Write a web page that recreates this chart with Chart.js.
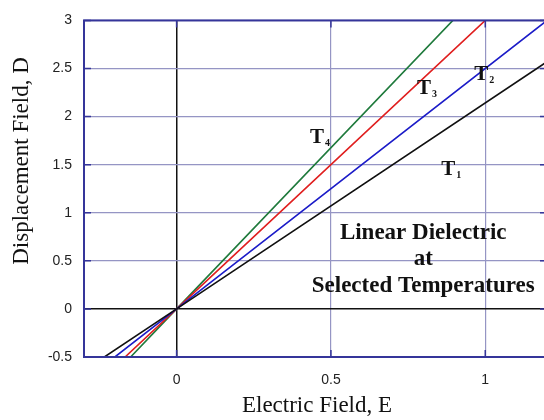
<!DOCTYPE html>
<html>
<head>
<meta charset="utf-8">
<script src="https://cdn.jsdelivr.net/npm/chart.js@4.4.0/dist/chart.umd.min.js"></script>
<style>
  html, body { margin: 0; padding: 0; background: #fff; overflow: hidden; }
  #wrap { width: 544px; height: 420px; overflow: hidden; }
</style>
</head>
<body>
<div id="wrap"><canvas id="dielectricChart" width="548" height="420"></canvas></div>
<script>
// 축 범위와 눈금
const xRange = [-0.3, 1.2];
const yRange = [-0.5, 3];
const xTicks = [0, 0.5, 1];
const yTicks = [-0.5, 0, 0.5, 1, 1.5, 2, 2.5, 3];

// 각 온도의 직선 (그림에서 읽은 끝점, 원점 통과)
const seriesNames = ["T1", "T2", "T3", "T4"];
const lineE = [
  [-0.234, 0, 1.2],
  [-0.2, 0, 1.2],
  [-0.167, 0, 1.0],
  [-0.149, 0, 0.895],
];
const lineD = [
  [-0.5, 0, 2.57],
  [-0.5, 0, 3.0],
  [-0.5, 0, 3.0],
  [-0.5, 0, 3.0],
];
const lineColors = ["#111111", "#1c1cc8", "#e01f1f", "#1f7a3c"];

// 라벨 위치 (데이터 좌표)
const tLabels = ["1", "2", "3", "4"];
const tLabelE = [0.857, 0.964, 0.779, 0.432];
const tLabelD = [1.39, 2.38, 2.235, 1.72];
const noteLines = ["Linear Dielectric", "at", "Selected Temperatures"];
const noteE = 0.799;
const noteD = [0.724, 0.459, 0.173];

const serif = '"Liberation Serif", "Times New Roman", serif';
const sans = '"Liberation Sans", Arial, sans-serif';
const gridColor = "#9595c4";
const frameColor = "#35359a";

const datasets = seriesNames.map((name, i) => ({
  label: name,
  data: lineE[i].map((e, j) => ({ x: e, y: lineD[i][j] })),
  borderColor: lineColors[i],
  borderWidth: 1.6,
  pointRadius: 0,
  fill: false,
  tension: 0,
}));

// 프레임, 안쪽 눈금, 텍스트 그리기
const decorPlugin = {
  id: "decor",
  afterDatasetsDraw(chart) {
    const { ctx, chartArea: a, scales } = chart;
    const xs = scales.x, ys = scales.y;
    ctx.save();
    // 안쪽 눈금
    ctx.strokeStyle = frameColor;
    ctx.lineWidth = 1.5;
    ctx.beginPath();
    yTicks.forEach((v) => {
      const py = ys.getPixelForValue(v);
      ctx.moveTo(a.left, py); ctx.lineTo(a.left + 7, py);
      ctx.moveTo(a.right, py); ctx.lineTo(a.right - 7, py);
    });
    xTicks.forEach((v) => {
      const px = xs.getPixelForValue(v);
      ctx.moveTo(px, a.bottom); ctx.lineTo(px, a.bottom - 7);
      ctx.moveTo(px, a.top); ctx.lineTo(px, a.top + 7);
    });
    ctx.stroke();
    // 테두리
    ctx.lineWidth = 2;
    ctx.strokeRect(a.left, a.top, a.right - a.left, a.bottom - a.top);

    // T 라벨
    ctx.fillStyle = "#111";
    ctx.textBaseline = "alphabetic";
    ctx.textAlign = "left";
    tLabels.forEach((s, i) => {
      const px = xs.getPixelForValue(tLabelE[i]);
      const py = ys.getPixelForValue(tLabelD[i]);
      ctx.font = "bold 21px " + serif;
      ctx.fillText("T", px, py);
      const w = ctx.measureText("T").width;
      ctx.font = "bold 10px " + serif;
      ctx.fillText(s, px + w + 1, py + 3);
    });

    // 설명 글
    ctx.font = "bold 23px " + serif;
    ctx.textAlign = "center";
    noteLines.forEach((s, i) => {
      ctx.fillText(s, xs.getPixelForValue(noteE), ys.getPixelForValue(noteD[i]));
    });

    // 축 제목
    ctx.font = "23px " + serif;
    ctx.fillText("Electric Field, E", 317, 412);
    ctx.translate(28, 161);
    ctx.rotate(-Math.PI / 2);
    ctx.fillText("Displacement Field, D", 0, 0);
    ctx.restore();
  },
};

const gridOpts = {
  color: (c) => (c.tick && c.tick.value === 0 ? "#111" : gridColor),
  lineWidth: (c) => (c.tick && c.tick.value === 0 ? 1.5 : 1.2),
  drawTicks: false,
};

const ctx = document.getElementById("dielectricChart").getContext("2d");
new Chart(ctx, {
  type: "line",
  data: { datasets: datasets },
  options: {
    responsive: false,
    animation: false,
    layout: { padding: { top: 14, right: 1, left: 0, bottom: 0 } },
    plugins: { legend: { display: false }, tooltip: { enabled: false } },
    scales: {
      x: {
        type: "linear",
        min: xRange[0],
        max: xRange[1],
        afterFit: (s) => { s.height = 63; },
        afterBuildTicks: (s) => { s.ticks = xTicks.map((v) => ({ value: v })); },
        grid: gridOpts,
        border: { display: false },
        ticks: {
          padding: 15,
          color: "#222",
          font: { family: sans, size: 14 },
          maxRotation: 0,
          callback: (v) => String(v),
        },
      },
      y: {
        min: yRange[0],
        max: yRange[1],
        afterFit: (s) => { s.width = 84; },
        afterBuildTicks: (s) => { s.ticks = yTicks.map((v) => ({ value: v })); },
        grid: gridOpts,
        border: { display: false },
        ticks: {
          padding: 12,
          color: "#222",
          font: { family: sans, size: 14 },
          callback: (v) => String(v),
        },
      },
    },
  },
  plugins: [decorPlugin],
});
</script>
</body>
</html>
